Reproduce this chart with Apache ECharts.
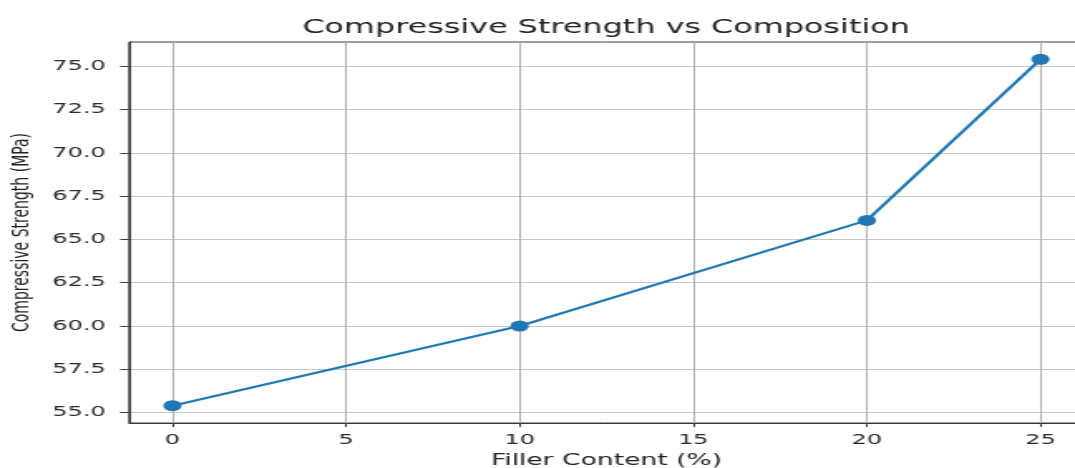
<!DOCTYPE html>
<html>
<head>
<meta charset="utf-8">
<script src="https://cdn.jsdelivr.net/npm/echarts@6/dist/echarts.min.js"></script>
<style>
  html, body { margin: 0; padding: 0; background: #fff; overflow: hidden; }
  #wrap { width: 1075px; height: 468px; overflow: hidden; position: relative; }
  /* the figure is drawn narrow and widened horizontally */
  #chart { width: 648px; height: 468px; transform: scaleX(1.659); transform-origin: 0 0; }
</style>
</head>
<body>
<div id="wrap"><div id="chart"></div></div>
<script>
// Data
const fillerContent = [0, 10, 20, 25];
const strength = [55.4, 60.0, 66.1, 75.4];
const xTicks = [0, 5, 10, 15, 20, 25];
const yTicks = [55, 57.5, 60, 62.5, 65, 67.5, 70, 72.5, 75];
const titleText = 'Compressive Strength vs Composition';
const xName = 'Filler Content (%)';
const yName = 'Compressive Strength (MPa)';

const FONT = 'DejaVu Sans';
const LINE = '#1f77b4';

const chart = echarts.init(document.getElementById('chart'), null, { renderer: 'canvas' });

chart.setOption({
  backgroundColor: '#fff',
  animation: false,
  graphic: [{
    type: 'text',
    x: 365.3,
    y: 28.5,
    style: {
      text: titleText,
      fontFamily: FONT,
      fontSize: 19.2,
      fill: '#222',
      textAlign: 'center',
      textVerticalAlign: 'middle'
    }
  }],
  grid: {
    left: 77.8,
    right: -5.3,
    top: 42,
    bottom: 45,
    outerBoundsMode: 'none',
    containLabel: false,
    show: true,
    borderColor: '#3a3a3a',
    borderWidth: 1,
    backgroundColor: 'transparent'
  },
  xAxis: {
    type: 'value',
    min: -1.25,
    max: 26.25,
    name: xName,
    nameLocation: 'middle',
    nameGap: 30,
    nameTextStyle: { fontFamily: FONT, fontSize: 16, color: '#222' },
    axisLine: { show: true, onZero: false, lineStyle: { color: '#3a3a3a', width: 1 } },
    axisTick: { show: true, length: 4, customValues: xTicks, lineStyle: { color: '#3a3a3a' } },
    axisLabel: {
      customValues: xTicks,
      margin: 10,
      fontFamily: FONT,
      fontSize: 14.5,
      color: '#2a2a2a',
      formatter: v => String(v)
    },
    splitLine: { show: true, lineStyle: { color: '#b0b0b0', width: 1 } }
  },
  yAxis: {
    type: 'value',
    min: 54.4,
    max: 76.4,
    name: yName,
    nameLocation: 'middle',
    nameRotate: 90,
    nameGap: 56,
    nameTextStyle: { fontFamily: FONT, fontSize: 14, color: '#222' },
    axisLine: { show: true, onZero: false, lineStyle: { color: '#3a3a3a', width: 1 } },
    axisTick: { show: true, length: 5.4, customValues: yTicks, lineStyle: { color: '#3a3a3a' } },
    axisLabel: {
      customValues: yTicks,
      margin: 14,
      fontFamily: FONT,
      fontSize: 14.5,
      color: '#2a2a2a',
      formatter: v => Number(v).toFixed(1)
    },
    splitLine: { show: true, lineStyle: { color: '#c8c8c8', width: 1 } }
  },
  series: [{
    type: 'line',
    data: fillerContent.map((x, i) => [x, strength[i]]),
    symbol: 'circle',
    symbolSize: 11,
    lineStyle: { color: LINE, width: 2.2 },
    itemStyle: { color: LINE },
    clip: false
  }]
});
</script>
</body>
</html>
